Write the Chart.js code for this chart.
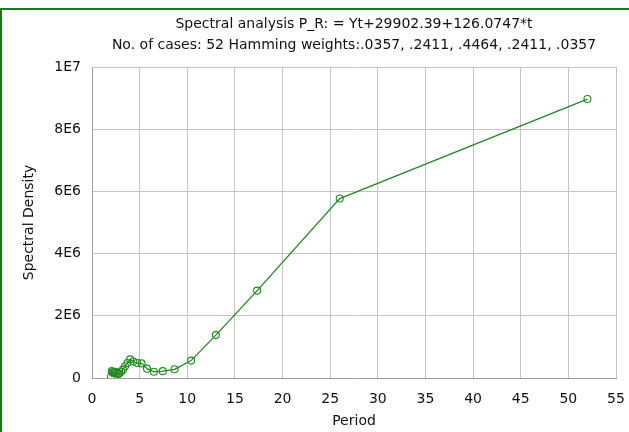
<!DOCTYPE html>
<html>
<head>
<meta charset="utf-8">
<script src="https://cdn.jsdelivr.net/npm/chart.js@4.4.1/dist/chart.umd.min.js"></script>
<style>
  html, body { margin: 0; padding: 0; background: #fff; }
  #wrap { width: 629px; height: 432px; position: relative; }
</style>
</head>
<body>
<div id="wrap"><canvas id="c" width="629" height="432"></canvas></div>
<script>
const titleLines = [
  "Spectral analysis P_R: = Yt+29902.39+126.0747*t",
  "No. of cases: 52 Hamming weights:.0357, .2411, .4464, .2411, .0357"
];
const xTitle = "Period";
const yTitle = "Spectral Density";

const periods = [52, 26, 17.3333, 13, 10.4, 8.6667, 7.4286, 6.5, 5.7778, 5.2, 4.7273, 4.3333, 4.0, 3.7143, 3.4667, 3.25, 3.0588, 2.8889, 2.7368, 2.6, 2.4762, 2.3636, 2.2609, 2.1667, 2.08, 2.0];
const density = [8970000, 5770000, 2810000, 1380000, 560000, 280000, 220000, 200000, 300000, 470000, 480000, 530000, 600000, 480000, 380000, 270000, 200000, 150000, 130000, 160000, 200000, 170000, 160000, 180000, 220000, 50000];

const xMin = 0, xMax = 55, xStep = 5;
const yMin = 0, yMax = 10000000, yStep = 2000000;

const FONT = '"DejaVu Sans", Verdana, sans-serif';
const GREEN = '#1f8a1f';

const points = periods.map((p, i) => ({ x: p, y: density[i] }));

const decor = {
  id: 'decor',
  beforeDraw(chart) {
    const ctx = chart.ctx;
    ctx.save();
    ctx.fillStyle = '#fff';
    ctx.fillRect(0, 0, chart.width, chart.height);
    ctx.fillStyle = '#1c7a1c';
    ctx.fillRect(0, 8, chart.width, 2);
    ctx.fillRect(0, 8, 2, chart.height - 8);
    ctx.restore();
  },
  afterDraw(chart) {
    const ctx = chart.ctx;
    const a = chart.chartArea;
    const cx = (a.left + a.right) / 2;
    ctx.save();
    ctx.fillStyle = '#111';
    ctx.font = '14px ' + FONT;
    ctx.textAlign = 'center';
    ctx.textBaseline = 'middle';
    ctx.fillText(titleLines[0], cx, 24);
    ctx.fillText(titleLines[1], cx, 45);
    ctx.fillText(xTitle, cx, 421);
    ctx.translate(29, (a.top + a.bottom) / 2);
    ctx.rotate(-Math.PI / 2);
    ctx.fillText(yTitle, 0, 0);
    ctx.restore();
  }
};

function yFmt(v) {
  if (v === 0) return '0';
  const e = Math.floor(Math.log10(v) + 1e-9);
  const m = Math.round(v / Math.pow(10, e));
  return m + 'E' + e;
}

new Chart(document.getElementById('c'), {
  type: 'line',
  data: {
    datasets: [{
      data: points,
      borderColor: GREEN,
      backgroundColor: 'rgba(0,0,0,0)',
      borderWidth: 1.3,
      pointRadius: 3.5,
      pointBorderWidth: 1.1,
      pointBorderColor: GREEN,
      pointBackgroundColor: 'rgba(0,0,0,0)',
      tension: 0
    }]
  },
  options: {
    responsive: false,
    animation: false,
    devicePixelRatio: 1,
    layout: { padding: { left: 0, right: 0, top: 67, bottom: 0 } },
    plugins: {
      legend: { display: false },
      title: { display: false },
      tooltip: { enabled: false }
    },
    scales: {
      x: {
        type: 'linear',
        min: xMin, max: xMax,
        ticks: { stepSize: xStep, color: '#111', font: { family: FONT, size: 14 }, padding: 13, maxRotation: 0 },
        grid: { color: '#c4c4c4', lineWidth: 1, drawTicks: false },
        border: { color: '#a0a0a0' },
        afterFit(s) { s.height = 54; s.paddingRight = 13; s.paddingLeft = 0; }
      },
      y: {
        type: 'linear',
        min: yMin, max: yMax,
        ticks: { stepSize: yStep, color: '#111', font: { family: FONT, size: 14 }, padding: 11, callback: yFmt },
        grid: { color: '#c4c4c4', lineWidth: 1, drawTicks: false },
        border: { color: '#a0a0a0' },
        afterFit(s) { s.width = 92; s.paddingTop = 0; s.paddingBottom = 0; }
      }
    }
  },
  plugins: [decor]
});
</script>
</body>
</html>
